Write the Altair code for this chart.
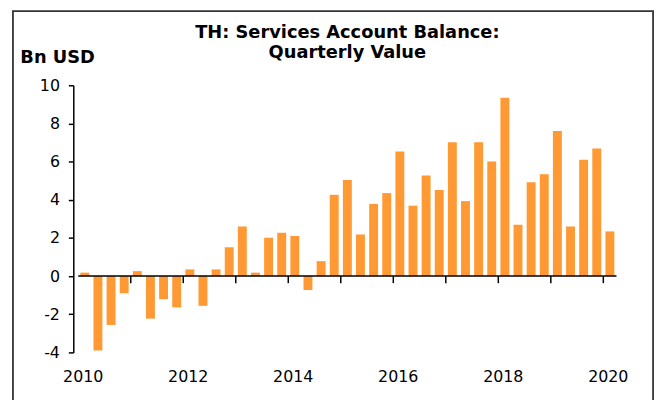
import altair as alt
import pandas as pd

# Quarterly services account balance, Bn USD, 2010Q1 .. 2020Q1
values = [0.18, -3.9, -2.56, -0.9,
          0.26, -2.23, -1.21, -1.64,
          0.35, -1.56, 0.35, 1.51,
          2.6, 0.18, 2.01, 2.27,
          2.1, -0.73, 0.78, 4.26,
          5.03, 2.18, 3.78, 4.35,
          6.53, 3.69, 5.27, 4.51,
          7.02, 3.93, 7.02, 6.01,
          9.34, 2.69, 4.92, 5.34,
          7.61, 2.6, 6.1, 6.69,
          2.34]
quarter_index = list(range(len(values)))
year_labels = ["2010", "2012", "2014", "2016", "2018", "2020"]
y_ticks = [-4, -2, 0, 2, 4, 6, 8, 10]
title_lines = ["TH: Services Account Balance:", "Quarterly Value"]

FONT = "DejaVu Sans"
ORANGE = "#FF9933"

n = len(values)
bars_df = pd.DataFrame({"idx": quarter_index, "value": values})
# year boundaries (between Q4 and Q1)
year_bounds = [i - 0.5 for i in quarter_index if i % 4 == 0 and i > 0]
ticks_df = pd.DataFrame({"idx": year_bounds, "y0": [0] * len(year_bounds),
                         "y1": [-0.37] * len(year_bounds)})
zero_df = pd.DataFrame({"idx": [-0.5], "idx2": [n - 0.5], "y0": [0]})
label_pos = [i - 0.5 for i in quarter_index if i % 8 == 0]

x_scale = alt.Scale(domain=[-0.5, n - 0.5], nice=False, zero=False)
y_scale = alt.Scale(domain=[-4, 10], nice=False, zero=False)

label_array = "[" + ",".join("'%s'" % s for s in year_labels) + "]"
x_axis = alt.Axis(values=label_pos, labelExpr=label_array + "[round((datum.value+0.5)/8)]",
                  ticks=False, tickSize=0, domain=False, grid=False, title=None,
                  labelFont=FONT, labelFontSize=16, labelColor="black",
                  labelPadding=16, labelOffset=4.5, labelFlush=False)
y_axis = alt.Axis(values=y_ticks, labelExpr="'' + datum.value",
                  grid=False, tickSize=5, tickColor="black", tickWidth=1.5,
                  domainColor="black", domainWidth=1.5,
                  labelFont=FONT, labelFontSize=16, labelColor="black", labelPadding=9,
                  title="Bn USD", titleAngle=0, titleAlign="left", titleBaseline="alphabetic",
                  titleX=-54, titleY=-23, titleFont=FONT, titleFontSize=18,
                  titleFontWeight="bold", titleColor="black")

bars = alt.Chart(bars_df).mark_bar(size=9, color=ORANGE).encode(
    x=alt.X("idx:Q", scale=x_scale, axis=x_axis),
    y=alt.Y("value:Q", scale=y_scale, axis=y_axis),
)

zero_rule = alt.Chart(zero_df).mark_rule(color="black", strokeWidth=1.5).encode(
    x=alt.X("idx:Q", scale=x_scale, axis=x_axis),
    x2="idx2:Q",
    y=alt.Y("y0:Q", scale=y_scale, axis=y_axis),
)

year_ticks = alt.Chart(ticks_df).mark_rule(color="black", strokeWidth=1.5).encode(
    x=alt.X("idx:Q", scale=x_scale, axis=x_axis),
    y=alt.Y("y0:Q", scale=y_scale, axis=y_axis),
    y2="y1:Q",
)

frame = alt.Chart(pd.DataFrame({"a": [0]})).mark_rect(
    fill=None, stroke="#333333", strokeWidth=1.8, clip=False
).encode(
    x=alt.value(-61), x2=alt.value(586), y=alt.value(-75), y2=alt.value(360)
)

title = alt.Chart(pd.DataFrame({"a": [0]})).mark_text(
    font=FONT, fontSize=18, fontWeight="bold", color="black",
    align="center", baseline="alphabetic", lineHeight=20, clip=False
).encode(
    x=alt.value(277), y=alt.value(-48), text=alt.value(title_lines)
)

chart = alt.layer(frame, bars, zero_rule, year_ticks, title).properties(
    width=554,
    height=270,
    background="white",
    autosize=alt.AutoSizeParams(type="none"),
    padding={"left": 66, "top": 76, "right": 38, "bottom": 46},
).configure_view(stroke=None)

chart.save("out.html", embed_options={"renderer": "svg", "actions": False})
